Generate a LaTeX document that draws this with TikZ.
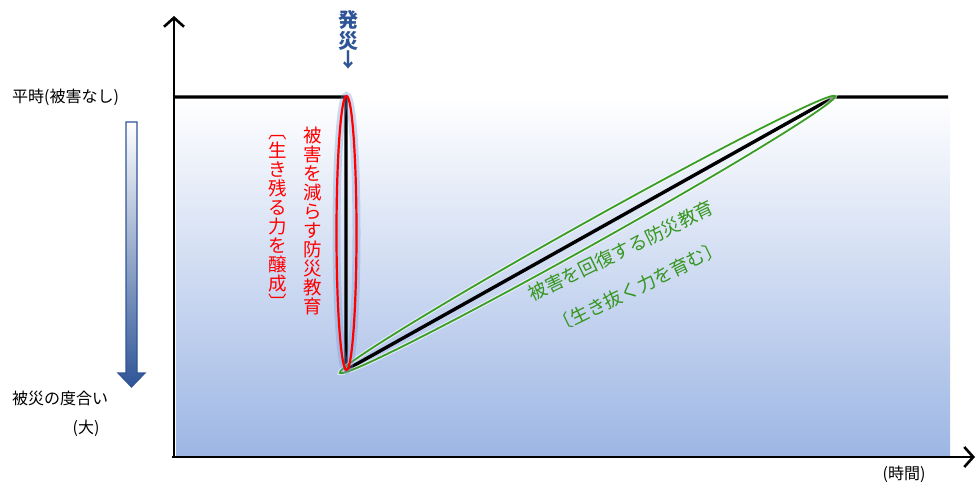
\documentclass[tikz,border=0pt]{standalone}
\usepackage{fontspec}
\setmainfont{Noto Sans CJK JP}
\usetikzlibrary{arrows.meta}
\definecolor{fillblue}{RGB}{157,182,228}
\definecolor{arrowblue}{RGB}{47,85,151}
\definecolor{glowblue}{RGB}{120,150,210}
\definecolor{lensgreen}{RGB}{58,158,36}
\definecolor{txtgreen}{RGB}{52,150,30}
\tikzset{
  mainline/.style={line width=3.4pt, black, line join=miter},
  axisline/.style={line width=2.6pt, black},
  lbl/.style={inner sep=0pt, font=\fontsize{16}{18}\selectfont},
  redcol/.style={inner sep=0pt, red, align=center, font=\fontsize{18.5}{19}\selectfont},
  greentxt/.style={inner sep=0pt, txtgreen, rotate=26, font=\fontsize{18.5}{20}\selectfont},
}
\begin{document}
\begin{tikzpicture}[x=1pt,y=-1pt]
\useasboundingbox (0,0) rectangle (976,486);
% background gradient
\shade[top color=white, bottom color=fillblue] (176,97) rectangle (950,456);
% axes
\coordinate (O) at (174,458);
\coordinate (Ytop) at (174,16);
\coordinate (Xend) at (975,457);
\draw[axisline, -{Straight Barb[length=9pt,width=20pt,line width=2.6pt]}] (O) -- (Ytop);
\draw[axisline, -{Straight Barb[length=9pt,width=20pt,line width=2.6pt]}] (172,457) -- (Xend);
% main curve
\coordinate (A) at (174,97);
\coordinate (B) at (346,97);
\coordinate (C) at (346,370);
\coordinate (D) at (834,97);
\coordinate (E) at (948,97);
\draw[mainline] (A) -- (B) -- (C) -- (D) -- (E);
% green lens
\coordinate (G) at (587.5,234.5);
\draw[white, line width=4pt, opacity=0.6, rotate around={29.2:(G)}] (G) ellipse [x radius=283.7pt, y radius=11.5pt];
\draw[lensgreen, line width=1.8pt, rotate around={29.2:(G)}] (G) ellipse [x radius=283.7pt, y radius=11.5pt];
% red ellipse
\coordinate (R) at (346.5,233);
\draw[glowblue, line width=8pt, opacity=0.35] (R) ellipse [x radius=10pt, y radius=137pt];
\draw[red, line width=2.2pt] (R) ellipse [x radius=10pt, y radius=137pt];
% gradient arrow
\shade[top color=white, bottom color=arrowblue, draw=arrowblue, line width=1.2pt]
  (126,122) -- (137,122) -- (137,373) -- (145,373) -- (131.5,387) -- (118,373) -- (126,373) -- cycle;
% labels
\node[lbl, anchor=west] (heiji) at (12,97) {平時(被害なし)};
\node[lbl, anchor=west] (hisai) at (12,398) {被災の度合い};
\node[lbl] (dai) at (86,428) {(大)};
\node[lbl] (jikan) at (904,474) {(時間)};
\node[inner sep=0pt, arrowblue, align=center, font=\fontsize{20}{21}\selectfont\bfseries] (hassai) at (348,40) {発\\災\\[-2pt]↓};
\node[redcol] (red1) at (313,221) {被\\害\\を\\減\\ら\\す\\防\\災\\教\\育};
\node[redcol] (red2) at (278,222) {︹\\生\\き\\残\\る\\力\\を\\醸\\成\\︺};
\node[greentxt] (green1) at (621,251) {被害を回復する防災教育};
\node[greentxt] (green2) at (638,287) {〔生き抜く力を育む〕};
\end{tikzpicture}
\end{document}
